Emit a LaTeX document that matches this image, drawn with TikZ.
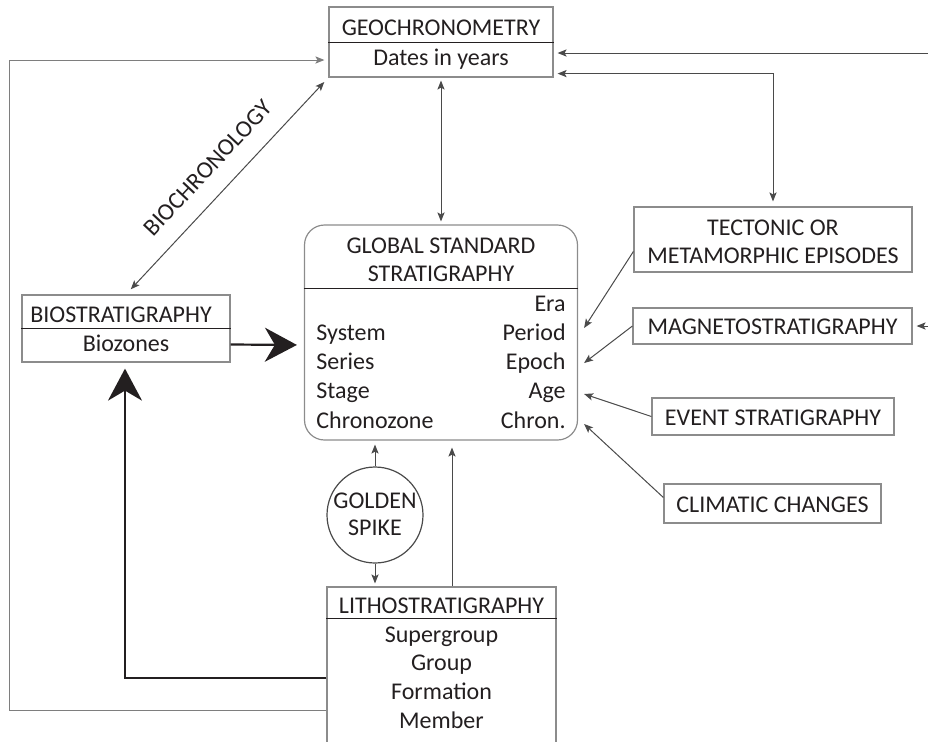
\documentclass[tikz,border=0pt]{standalone}
\usepackage{fontspec}
\setmainfont{Carlito}
\usetikzlibrary{arrows.meta}

\definecolor{boxgray}{HTML}{8C8C8C}
\definecolor{linegray}{HTML}{4A4A4A}
\definecolor{ink}{HTML}{231F20}

\tikzset{
  smalltip/.tip={Stealth[length=4.5pt,width=3.6pt,inset=1pt]},
  bigtip/.tip={Stealth[length=16pt,width=17pt,inset=5pt]},
  box/.style={draw=boxgray, line width=0.6pt, inner sep=0pt},
  txt/.style={inner sep=0pt, text=ink},
  divider/.style={draw=ink, line width=0.6pt},
  conn/.style={draw=linegray, line width=0.5pt, -smalltip},
  heavy/.style={draw=ink, line width=1.1pt, -bigtip},
}

\begin{document}
\begin{tikzpicture}[x=0.5pt, y=-0.5pt, font=\fontsize{12}{14}\selectfont]
  \useasboundingbox (0,0) rectangle (928,741);

  % boxes
  \node[box, minimum width=112pt, minimum height=35pt] (geo) at (441,42) {};
  \node[box, rounded corners=10pt, minimum width=136.5pt, minimum height=107.5pt] (glob) at (441,332.5) {};
  \node[box, minimum width=104pt, minimum height=33.5pt] (biostrat) at (126,328.5) {};
  \node[box, minimum width=114.5pt, minimum height=86.5pt] (litho) at (441.5,673.5) {};
  \node[box, minimum width=139pt, minimum height=32.5pt] (tecto) at (773,239.5) {};
  \node[box, minimum width=139.5pt, minimum height=18pt] (magneto) at (772.5,326) {};
  \node[box, minimum width=121pt, minimum height=18.5pt] (event) at (773,416.5) {};
  \node[box, minimum width=108.5pt, minimum height=19.5pt] (climate) at (772.5,503.5) {};
  \node[box, draw=linegray, circle, minimum size=48pt] (spike) at (375,515) {};

  \draw[divider] ([yshift=-18pt]geo.north west) -- ([yshift=-18pt]geo.north east);
  \draw[divider] ([yshift=-32pt]glob.north west) -- ([yshift=-32pt]glob.north east);
  \draw[divider] ([yshift=-17pt]biostrat.north west) -- ([yshift=-17pt]biostrat.north east);
  \draw[divider] ([yshift=-16pt]litho.north west) -- ([yshift=-16pt]litho.north east);

  % texts
  \node[txt, anchor=base] (geotitle) at (441,35) {GEOCHRONOMETRY};
  \node[txt, anchor=base] (geobody) at (441,65) {Dates in years};
  \node[txt, anchor=base] (globtitle) at (441,253) {GLOBAL STANDARD};
  \node[txt, anchor=base] (globtitleb) at (441,281) {STRATIGRAPHY};
  \foreach \lbl [count=\i] in {Era,Period,Epoch,Age,Chron.}
    \node[txt, anchor=base east] (chrono\i) at (566,{311+29.3*(\i-1)}) {\lbl};
  \foreach \lbl [count=\i] in {System,Series,Stage,Chronozone}
    \node[txt, anchor=base west] (strat\i) at (316,{340.3+29.3*(\i-1)}) {\lbl};
  \node[txt, anchor=base] (biotitle) at (121,322) {BIOSTRATIGRAPHY};
  \node[txt, anchor=base] (biobody) at (126,351) {Biozones};
  \node[txt, anchor=base] (lithotitle) at (441.5,613) {LITHOSTRATIGRAPHY};
  \foreach \lbl [count=\i] in {Supergroup,Group,Formation,Member}
    \node[txt, anchor=base] (litho\i) at (441.5,{642+28.8*(\i-1)}) {\lbl};
  \node[txt, anchor=base] (tectotitle) at (773,235) {TECTONIC OR};
  \node[txt, anchor=base] (tectotitleb) at (773,263) {METAMORPHIC EPISODES};
  \node[txt, anchor=base] (magnetotitle) at (772.5,334) {MAGNETOSTRATIGRAPHY};
  \node[txt, anchor=base] (eventtitle) at (773,425) {EVENT STRATIGRAPHY};
  \node[txt, anchor=base] (climatetitle) at (772.5,512) {CLIMATIC CHANGES};
  \node[txt, anchor=base] (spiketitle) at (375,508) {GOLDEN};
  \node[txt, anchor=base] (spiketitleb) at (375,535) {SPIKE};

  % connectors
  \coordinate (geoin) at (928,53);
  \coordinate (magin) at (928,326);
  \coordinate (loopa) at (9,710);
  \coordinate (loopb) at (125,678);
  \coordinate (lithoup) at ([xshift=5.25pt]litho.north);
  \coordinate (globright) at ([xshift=3pt]glob.east);

  \draw[conn, shorten >=2pt] (geoin) -- (geoin -| geo.east);
  \draw[conn, smalltip-smalltip, shorten <=2pt, shorten >=2.5pt] ([yshift=2pt]geo.south east) -| (tecto.north);
  \draw[conn, shorten >=2pt] (magin) -- (magneto.east);
  \draw[conn, smalltip-smalltip, shorten <=1.5pt, shorten >=1.5pt] (geo.south) -- (glob.north);
  \draw[conn, smalltip-smalltip, shorten <=3pt, shorten >=3.5pt] (geo.south west) -- (biostrat.north)
    node[txt, midway, sloped, above=9pt] (biochron) {BIOCHRONOLOGY};

  \draw[conn] ([yshift=-6pt]tecto.west) -- (globright |- 0,328);
  \draw[conn] (magneto.west) -- (globright |- 0,363);
  \draw[conn] (event.west) -- (globright |- 0,394);
  \draw[conn] ([yshift=3pt]climate.west) -- (globright |- 0,424);

  \draw[conn, shorten >=2pt] (spike.north) -- (spike.north |- glob.south);
  \draw[conn, shorten >=1.5pt] (spike.south) -- (spike.south |- litho.north);
  \draw[conn, shorten >=3.5pt] (lithoup) -- (lithoup |- glob.south);

  \draw[conn, draw=boxgray!90!black, shorten >=2pt] (litho.west |- loopa) -- (loopa) |- ([yshift=-9pt]geo.west);
  \draw[heavy, shorten >=3pt] (litho.west |- loopb) -- (loopb) -- (loopb |- biostrat.south);
  \draw[heavy, shorten >=3.5pt] ([yshift=-8pt]biostrat.east) -- (glob.west |- 0,345);
\end{tikzpicture}
\end{document}
